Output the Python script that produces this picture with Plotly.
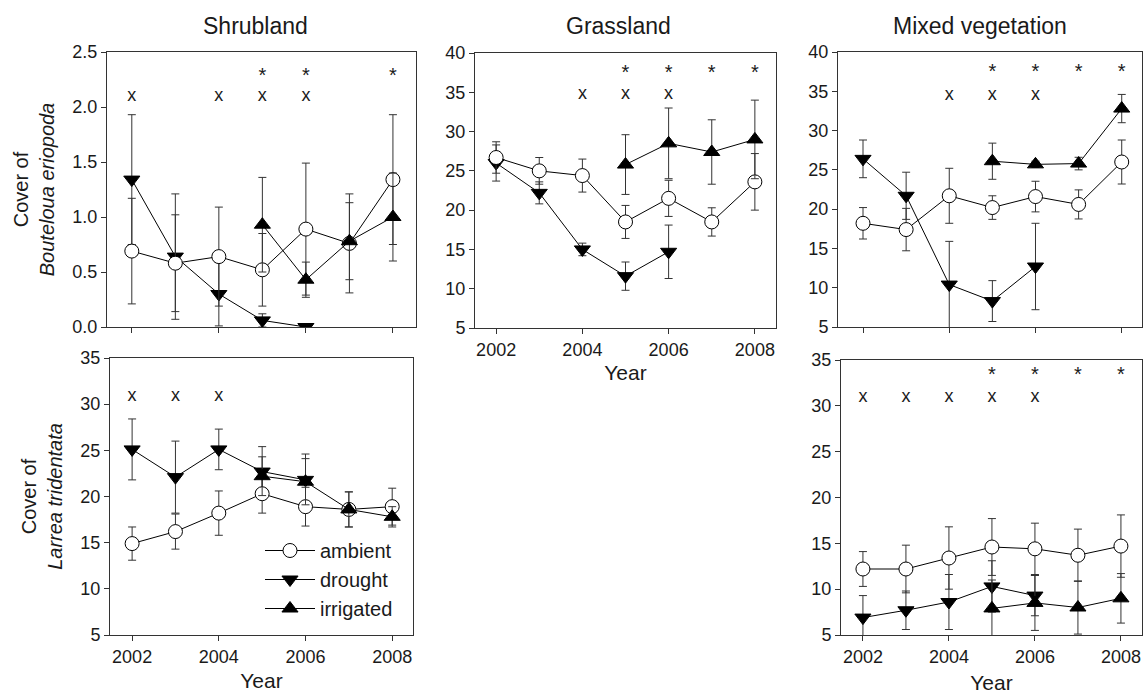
import plotly.graph_objects as go

# ---------------- data ----------------
years = [2002, 2003, 2004, 2005, 2006, 2007, 2008]
drought_years = [2002, 2003, 2004, 2005, 2006]
irrigated_years = [2005, 2006, 2007, 2008]

# Shrubland - Bouteloua eriopoda
shr_bout_amb = [0.69, 0.58, 0.64, 0.52, 0.89, 0.76, 1.34]
shr_bout_amb_se = [0.48, 0.44, 0.45, 0.33, 0.60, 0.45, 0.59]
shr_bout_dro = [1.34, 0.64, 0.30, 0.06, 0.00]
shr_bout_dro_se = [0.59, 0.57, 0.29, 0.06, 0.00]
shr_bout_irr = [0.93, 0.43, 0.78, 1.00]
shr_bout_irr_se = [0.43, 0.16, 0.35, 0.40]

# Grassland - Bouteloua eriopoda
gra_bout_amb = [26.7, 25.0, 24.4, 18.5, 21.5, 18.5, 23.6]
gra_bout_amb_se = [2.0, 1.7, 2.1, 2.1, 2.3, 1.8, 3.6]
gra_bout_dro = [26.0, 22.2, 15.0, 11.6, 14.7]
gra_bout_dro_se = [2.3, 1.4, 0.8, 1.8, 3.4]
gra_bout_irr = [25.8, 28.5, 27.4, 29.0]
gra_bout_irr_se = [3.8, 4.5, 4.1, 5.0]

# Mixed vegetation - Bouteloua eriopoda
mix_bout_amb = [18.2, 17.4, 21.7, 20.2, 21.6, 20.6, 26.0]
mix_bout_amb_se = [2.0, 2.7, 3.5, 1.5, 1.95, 1.85, 2.8]
mix_bout_dro = [26.4, 21.7, 10.4, 8.3, 12.7]
mix_bout_dro_se = [2.4, 3.0, 5.5, 2.6, 5.5]
mix_bout_irr = [26.1, 25.7, 25.8, 32.8]
mix_bout_irr_se = [2.3, 0.4, 0.8, 1.8]

# Shrubland - Larrea tridentata
shr_larr_amb = [14.9, 16.2, 18.2, 20.3, 18.9, 18.6, 18.9]
shr_larr_amb_se = [1.8, 1.9, 2.4, 2.1, 2.1, 1.9, 2.0]
shr_larr_dro = [25.1, 22.1, 25.1, 22.7, 21.8]
shr_larr_dro_se = [3.3, 3.9, 2.2, 2.7, 2.8]
shr_larr_irr = [22.2, 21.6, 18.6, 17.8]
shr_larr_irr_se = [2.1, 2.5, 1.9, 1.1]

# Mixed vegetation - Larrea tridentata
mix_larr_amb = [12.2, 12.2, 13.4, 14.6, 14.4, 13.7, 14.7]
mix_larr_amb_se = [1.9, 2.6, 3.4, 3.1, 2.8, 2.85, 3.4]
mix_larr_dro = [6.9, 7.7, 8.6, 10.3, 9.3]
mix_larr_dro_se = [2.4, 2.1, 3.0, 2.8, 2.2]
mix_larr_irr = [7.9, 8.5, 8.0, 9.0]
mix_larr_irr_se = [3.1, 3.0, 2.9, 2.7]

# significance markers (years with "x" = drought effect, "*" = irrigation effect)
shr_bout_x = [2002, 2004, 2005, 2006]
shr_bout_star = [2005, 2006, 2008]
gra_bout_x = [2004, 2005, 2006]
gra_bout_star = [2005, 2006, 2007, 2008]
mix_bout_x = [2004, 2005, 2006]
mix_bout_star = [2005, 2006, 2007, 2008]
shr_larr_x = [2002, 2003, 2004]
shr_larr_star = []
mix_larr_x = [2002, 2003, 2004, 2005, 2006]
mix_larr_star = [2005, 2006, 2007, 2008]

panel_titles = ["Shrubland", "Grassland", "Mixed vegetation"]
year_ticks = [2002, 2004, 2006, 2008]

# ---------------- layout geometry (pixels) ----------------
W, H = 1143, 694
FONT = "Liberation Sans, Arial, sans-serif"
INK = "#1a1a1a"
AX = "#333333"

panels = [
    dict(key="1", box=(107, 416, 52, 327), xr=(2001.43, 2008.53), yr=(0, 2.5), dt=0.5, fmt=".1f",
         data=(shr_bout_amb, shr_bout_amb_se, shr_bout_dro, shr_bout_dro_se, shr_bout_irr, shr_bout_irr_se),
         sig=(shr_bout_x, shr_bout_star), lev=(2.10, 2.27), xlab=False, xtitle=None, xstand=6,
         ytitle="Cover of<br><i>Bouteloua eriopoda</i>", legend=False),
    dict(key="2", box=(475, 776, 53, 328), xr=(2001.51, 2008.49), yr=(5, 40), dt=5, fmt="d",
         data=(gra_bout_amb, gra_bout_amb_se, gra_bout_dro, gra_bout_dro_se, gra_bout_irr, gra_bout_irr_se),
         sig=(gra_bout_x, gra_bout_star), lev=(34.7, 37.3), xlab=True, xtitle="Year", xstand=6,
         ytitle=None, legend=False),
    dict(key="3", box=(838, 1142, 52, 327), xr=(2001.42, 2008.47), yr=(5, 40), dt=5, fmt="d",
         data=(mix_bout_amb, mix_bout_amb_se, mix_bout_dro, mix_bout_dro_se, mix_bout_irr, mix_bout_irr_se),
         sig=(mix_bout_x, mix_bout_star), lev=(34.5, 37.3), xlab=False, xtitle=None, xstand=6,
         ytitle=None, legend=False),
    dict(key="4", box=(110, 413, 358, 635), xr=(2001.49, 2008.48), yr=(5, 35), dt=5, fmt="d",
         data=(shr_larr_amb, shr_larr_amb_se, shr_larr_dro, shr_larr_dro_se, shr_larr_irr, shr_larr_irr_se),
         sig=(shr_larr_x, shr_larr_star), lev=(30.8, 33.2), xlab=True, xtitle="Year", xstand=7,
         ytitle="Cover of<br><i>Larrea tridentata</i>", legend=True),
    dict(key="5", box=(841, 1142, 360, 635), xr=(2001.49, 2008.49), yr=(5, 35), dt=5, fmt="d",
         data=(mix_larr_amb, mix_larr_amb_se, mix_larr_dro, mix_larr_dro_se, mix_larr_irr, mix_larr_irr_se),
         sig=(mix_larr_x, mix_larr_star), lev=(30.9, 33.3), xlab=True, xtitle="Year", xstand=11,
         ytitle=None, legend=False),
]

fig = go.Figure()
layout = dict(
    width=W, height=H,
    margin=dict(l=0, r=0, t=0, b=0, pad=0, autoexpand=False),
    paper_bgcolor="white", plot_bgcolor="white",
    font=dict(family=FONT, color=INK, size=18),
    showlegend=True,
    legend=dict(x=260 / W, y=1 - 531 / H, xanchor="left", yanchor="top",
                bgcolor="rgba(0,0,0,0)", font=dict(size=20, color=INK),
                tracegroupgap=0, itemwidth=50),
)

def err(arr, color="#333333"):
    return dict(type="data", array=arr, visible=True, color=color, thickness=1, width=4)

for p in panels:
    k = p["key"]
    xa = "x" if k == "1" else "x" + k
    ya = "y" if k == "1" else "y" + k
    amb, amb_se, dro, dro_se, irr, irr_se = p["data"]
    sl = p["legend"]
    fig.add_trace(go.Scatter(
        x=drought_years, y=dro, error_y=err(dro_se), name="drought", mode="lines+markers",
        line=dict(color="black", width=1),
        marker=dict(symbol="triangle-down", size=14, color="black", line=dict(color="black", width=1)),
        xaxis=xa, yaxis=ya, showlegend=sl, legendrank=2))
    fig.add_trace(go.Scatter(
        x=years, y=amb, error_y=err(amb_se), name="ambient", mode="lines+markers",
        line=dict(color="black", width=1),
        marker=dict(symbol="circle", size=14, color="white", line=dict(color="black", width=1)),
        xaxis=xa, yaxis=ya, showlegend=sl, legendrank=1))
    fig.add_trace(go.Scatter(
        x=irrigated_years, y=irr, error_y=err(irr_se), name="irrigated", mode="lines+markers",
        line=dict(color="black", width=1),
        marker=dict(symbol="triangle-up", size=14, color="black", line=dict(color="black", width=1)),
        xaxis=xa, yaxis=ya, showlegend=sl, legendrank=3))
    xs, stars = p["sig"]
    lx, ls = p["lev"]
    if xs:
        fig.add_trace(go.Scatter(x=xs, y=[lx] * len(xs), mode="text", text=["x"] * len(xs),
                                 textfont=dict(size=18, color=INK), xaxis=xa, yaxis=ya,
                                 showlegend=False, hoverinfo="skip"))
    if stars:
        fig.add_trace(go.Scatter(x=stars, y=[ls] * len(stars), mode="text", text=["*"] * len(stars),
                                 textfont=dict(size=20, color=INK), xaxis=xa, yaxis=ya,
                                 showlegend=False, hoverinfo="skip"))

    x0, x1, y0, y1 = p["box"]
    xkey = "xaxis" if k == "1" else "xaxis" + k
    ykey = "yaxis" if k == "1" else "yaxis" + k
    layout[xkey] = dict(
        domain=[x0 / W, x1 / W], anchor=ya, range=list(p["xr"]), automargin=False,
        tickmode="array", tickvals=year_ticks, ticktext=[str(t) for t in year_ticks],
        showticklabels=p["xlab"], ticks="outside", ticklen=5, tickcolor=AX, tickwidth=1,
        showline=True, linecolor=AX, linewidth=1, mirror=True, showgrid=False, zeroline=False,
        tickfont=dict(size=18, color=INK),
        title=dict(text=p["xtitle"], font=dict(size=21, color=INK), standoff=p["xstand"]) if p["xtitle"] else None,
    )
    layout[ykey] = dict(
        domain=[1 - y1 / H, 1 - y0 / H], anchor=xa, range=list(p["yr"]), automargin=False,
        dtick=p["dt"], tick0=0, tickformat=p["fmt"],
        ticks="outside", ticklen=5, tickcolor=AX, tickwidth=1,
        showline=True, linecolor=AX, linewidth=1, mirror=True, showgrid=False, zeroline=False,
        tickfont=dict(size=18, color=INK),
        title=dict(text=p["ytitle"], font=dict(size=20, color=INK), standoff=12) if p["ytitle"] else None,
    )

title_pos = [(255, 26), (618, 26), (980, 26)]
annotations = []
for t, (px, py) in zip(panel_titles, title_pos):
    annotations.append(dict(text=t, x=px / W, y=1 - py / H, xref="paper", yref="paper",
                            xanchor="center", yanchor="middle", showarrow=False,
                            font=dict(size=23, color=INK)))
layout["annotations"] = annotations
fig.update_layout(**layout)
fig.write_html("out.html", config={"displayModeBar": False},
               post_script="document.body.style.margin='0';document.body.style.padding='0';")
